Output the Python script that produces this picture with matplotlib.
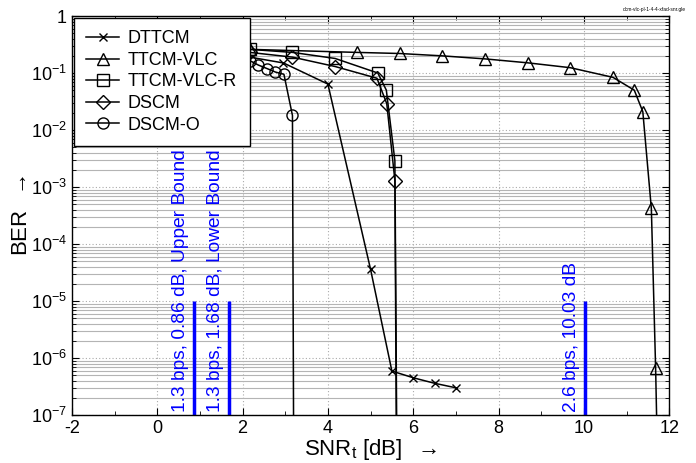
import matplotlib
matplotlib.use("Agg")
import matplotlib.pyplot as plt
from matplotlib.ticker import LogLocator, FixedLocator, NullFormatter, FuncFormatter
import numpy as np

plt.rcParams['font.family'] = ['Liberation Sans', 'DejaVu Sans']
plt.rcParams['mathtext.fontset'] = 'custom'
plt.rcParams['mathtext.rm'] = 'Liberation Sans'
plt.rcParams['mathtext.it'] = 'Liberation Sans:italic'

# ---- data ----
dttcm_x = [1.0, 2.0, 2.96, 4.0, 5.0, 5.5, 6.0, 6.5, 7.0]
dttcm_y = [0.25, 0.2, 0.15, 0.064, 3.6e-5, 5.9e-7, 4.5e-7, 3.6e-7, 3.0e-7]

ttcmvlc_x = [1.18, 2.18, 4.68, 5.68, 6.68, 7.68, 8.68, 9.68, 10.68, 11.18, 11.38, 11.58, 11.68, 11.73]
ttcmvlc_y = [0.27, 0.26, 0.23, 0.22, 0.20, 0.177, 0.151, 0.124, 0.084, 0.050, 0.021, 4.2e-4, 6.6e-7, 1e-8]

ttcmvlcr_x = [1.17, 2.17, 3.17, 4.17, 5.17, 5.37, 5.57, 5.62]
ttcmvlcr_y = [0.28, 0.26, 0.23, 0.18, 0.10, 0.05, 0.0029, 1e-8]

dscm_x = [1.17, 2.17, 3.17, 4.17, 5.15, 5.38, 5.57, 5.61]
dscm_y = [0.25, 0.23, 0.19, 0.13, 0.081, 0.029, 1.3e-3, 1e-8]

dscmo_x = [1.97, 2.17, 2.37, 2.57, 2.77, 2.97, 3.17, 3.2]
dscmo_y = [0.21, 0.165, 0.138, 0.12, 0.104, 0.095, 0.018, 1e-8]

bound_x = [0.86, 1.68, 10.03]
bound_labels = ["1.3 bps, 0.86 dB, Upper Bound", "1.3 bps, 1.68 dB, Lower Bound", "2.6 bps, 10.03 dB"]

xticks = [-2, 0, 2, 4, 6, 8, 10, 12]
yticks = [1, 1e-1, 1e-2, 1e-3, 1e-4, 1e-5, 1e-6, 1e-7]

# ---- figure ----
fig = plt.figure(figsize=(6.96, 4.63), dpi=100)
ax = fig.add_axes([0.1032, 0.1037, 0.9616 - 0.1032, 0.9654 - 0.1037])
ax.set_yscale('log')
ax.set_xlim(-2, 12)
ax.set_ylim(1e-7, 1)

# grid
ax.set_xticks(xticks)
ax.xaxis.set_minor_locator(FixedLocator(np.arange(-1, 12, 2)))
ax.yaxis.set_major_locator(FixedLocator(yticks))
ax.yaxis.set_minor_locator(LogLocator(base=10, subs=np.arange(2, 10), numticks=20))
ax.yaxis.set_minor_formatter(NullFormatter())

ax.grid(True, which='major', axis='both', color='#aaaaaa', linestyle=(0, (1, 2)), linewidth=0.8)
ax.grid(True, which='minor', axis='y', color='#b4b4b4', linestyle='-', linewidth=0.8)
ax.set_axisbelow(True)

def yfmt(v, pos):
    e = int(round(np.log10(v)))
    if e == 0:
        return '1'
    return r'$10^{%d}$' % e
ax.yaxis.set_major_formatter(FuncFormatter(yfmt))
ax.xaxis.set_major_formatter(FuncFormatter(lambda v, p: '%d' % v))

ax.tick_params(which='both', direction='in', top=True, right=True, labelsize=13, colors='black')
ax.tick_params(which='major', length=5, width=0.8)
ax.tick_params(which='minor', length=3, width=0.6)
for s in ax.spines.values():
    s.set_linewidth(1.0)

lw = 1.1
ms = 9
kw = dict(color='black', linewidth=lw, markerfacecolor='none', markeredgecolor='black', markeredgewidth=1.0)
ax.plot(dttcm_x, dttcm_y, marker='x', markersize=6, label='DTTCM', **kw)
ax.plot(ttcmvlc_x, ttcmvlc_y, marker='^', markersize=ms, label='TTCM-VLC', **kw)
ax.plot(ttcmvlcr_x, ttcmvlcr_y, marker='s', markersize=ms, label='TTCM-VLC-R', **kw)
ax.plot(dscm_x, dscm_y, marker='D', markersize=7.5, label='DSCM', **kw)
ax.plot(dscmo_x, dscmo_y, marker='o', markersize=8, label='DSCM-O', **kw)

# bounds
for bx, bl in zip(bound_x, bound_labels):
    ax.plot([bx, bx], [1e-7, 1e-5], color='#0000ff', linewidth=2.5, solid_capstyle='butt')
    ax.text(bx - 0.12, 1.15e-7, bl, rotation=90, color='#0000ff', fontsize=13.8,
            ha='left', va='bottom', rotation_mode='anchor')

leg = ax.legend(loc='upper left', bbox_to_anchor=(0.0, 1.0), frameon=True, fancybox=False,
                edgecolor='black', framealpha=1.0, fontsize=13, handlelength=1.8,
                borderaxespad=0.1, labelspacing=0.25, handletextpad=0.5, borderpad=0.7)
leg.get_frame().set_linewidth(1.0)
leg.set_zorder(10)

ax.set_xlabel(r'SNR$_{\rm t}$ [dB]  $\rightarrow$', fontsize=16, labelpad=0)
ax.set_ylabel(r'BER  $\rightarrow$', fontsize=16)
ax.yaxis.set_label_coords(-0.067, 0.5)

fig.text(0.985, 0.985, 'dcm-vlc-pl-1-4-4-xfad-snr.gle', fontsize=3.5, ha='right', va='top')

fig.savefig('out.png', dpi=100)
